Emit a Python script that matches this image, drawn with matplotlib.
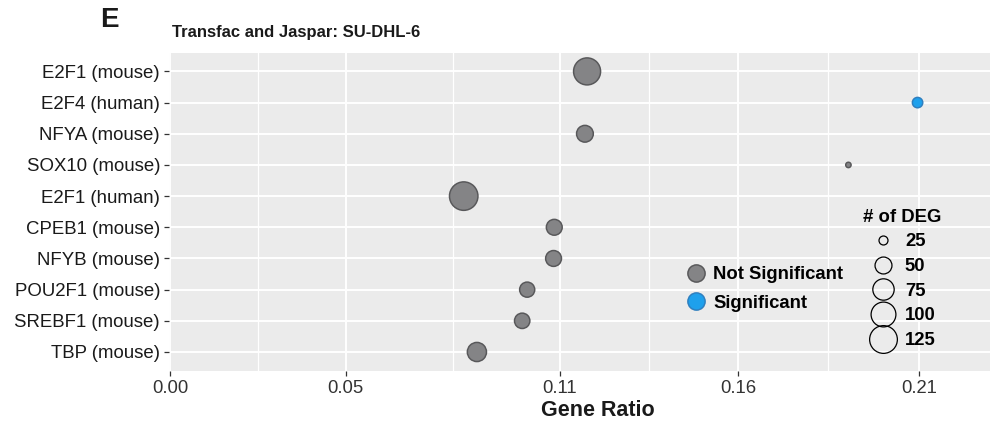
import matplotlib
matplotlib.use("Agg")
import matplotlib.pyplot as plt
from matplotlib.lines import Line2D
import numpy as np

plt.rcParams['font.family'] = ['Liberation Sans', 'DejaVu Sans']

# ---- data ----
terms = ['E2F1 (mouse)', 'E2F4 (human)', 'NFYA (mouse)', 'SOX10 (mouse)', 'E2F1 (human)',
         'CPEB1 (mouse)', 'NFYB (mouse)', 'POU2F1 (mouse)', 'SREBF1 (mouse)', 'TBP (mouse)']
gene_ratio = [0.1169, 0.2096, 0.1163, 0.1902, 0.0823, 0.1077, 0.1075, 0.1001, 0.0987, 0.0860]
deg_count = [116, 27, 48, 22, 129, 44, 44, 41, 42, 60]
significant = [False, True, False, False, False, False, False, False, False, False]
x_ticks = [0.0, 0.0492, 0.1093, 0.1592, 0.21]
x_tick_labels = ['0.00', '0.05', '0.11', '0.16', '0.21']
size_breaks = [25, 50, 75, 100, 125]
sig_labels = ['Not Significant', 'Significant']

# ---- styles ----
DPI = 100
W, H = 995, 423
GRAY_FILL, GRAY_EDGE = '#848486', '#58585a'
BLUE_FILL, BLUE_EDGE = '#1ea0ec', '#2f7fbf'
PANEL_BG = '#EBEBEB'
EDGE_LW = 1.08


def diam_pt(v):
    v = np.asarray(v, dtype=float)
    d_px = 5.4 + 2.23 * np.sqrt(np.clip(v - 22, 0, None))
    return d_px * 72.0 / DPI


fig = plt.figure(figsize=(W / DPI, H / DPI), dpi=DPI)
left, right, top, bottom = 169, 990, 52.7, 370.7
ax = fig.add_axes([left / W, 1 - bottom / H, (right - left) / W, (bottom - top) / H])
ax.set_facecolor(PANEL_BG)
for s in ax.spines.values():
    s.set_visible(False)

ypos = np.arange(len(terms))
fills = [BLUE_FILL if s else GRAY_FILL for s in significant]
edges = [BLUE_EDGE if s else GRAY_EDGE for s in significant]
ax.scatter(gene_ratio, ypos, s=diam_pt(deg_count) ** 2, c=fills, edgecolors=edges,
           linewidths=EDGE_LW, zorder=3)

# axes / grid
x0 = (left - 170.3) / 3565.2
x1 = (right - 170.3) / 3565.2
ax.set_xlim(x0, x1)
ax.set_ylim(len(terms) - 1 + 0.6, -0.6)
ax.set_yticks(ypos)
ax.set_yticklabels(terms, fontsize=13.4, color='#1a1a1a')
ax.set_xticks(x_ticks)
ax.set_xticklabels(x_tick_labels, fontsize=13.3, color='#333333')
minor = [(a + b) / 2 for a, b in zip(x_ticks[:-1], x_ticks[1:])]
ax.set_xticks(minor, minor=True)
ax.tick_params(axis='both', which='major', length=3.4, width=0.9, color='#333333', pad=3)
ax.tick_params(axis='x', which='minor', length=0)
ax.grid(True, which='major', color='white', linewidth=1.4)
ax.grid(True, which='minor', axis='x', color='white', linewidth=0.9)
ax.set_axisbelow(True)

ax.set_xlabel('Gene Ratio', fontsize=15.5, fontweight='bold', color='#1a1a1a')
ax.xaxis.set_label_coords((598 - left) / (right - left), -(399.5 - bottom) / (bottom - top))

fig.text(172 / W, 1 - 33 / H, 'Transfac and Jaspar: SU-DHL-6', fontsize=12, fontweight='bold',
         ha='left', va='center', color='#1a1a1a')
fig.text(109 / W, 1 - 20 / H, 'E', fontsize=20, fontweight='bold', ha='center', va='center',
         color='#1a1a1a')

# colour legend
fs = 13.3
fs_px = fs * DPI / 72
row_h = 0.91 * fs_px
col_handles = [Line2D([], [], ls='none', marker='o', markersize=12.4, markerfacecolor=f,
                      markeredgecolor=e, markeredgewidth=EDGE_LW)
               for f, e in [(GRAY_FILL, GRAY_EDGE), (BLUE_FILL, BLUE_EDGE)]]
leg1 = fig.legend(col_handles, sig_labels, loc='upper left',
                  bbox_to_anchor=((696 - fs_px / 2) / W, 1 - (274.5 - row_h / 2) / H),
                  frameon=False, prop={'weight': 'bold', 'size': fs}, handlelength=1.0,
                  handletextpad=0.42, labelspacing=(28.5 - row_h) / fs_px, borderpad=0,
                  borderaxespad=0)

# size legend
size_handles = [Line2D([], [], ls='none', marker='o', markersize=float(diam_pt(b)) - 0.2,
                       markerfacecolor='none', markeredgecolor='black', markeredgewidth=0.9)
                for b in size_breaks]
leg2 = fig.legend(size_handles, [str(b) for b in size_breaks], loc='upper left',
                  bbox_to_anchor=(863 / W, 1 - (217 - row_h / 2) / H), frameon=False,
                  prop={'weight': 'bold', 'size': fs}, handlelength=1.6, handletextpad=0.36,
                  labelspacing=(24.5 - row_h) / fs_px, borderpad=0, borderaxespad=0,
                  title='# of DEG', title_fontproperties={'weight': 'bold', 'size': fs})

fig.savefig('out.png', dpi=DPI)
